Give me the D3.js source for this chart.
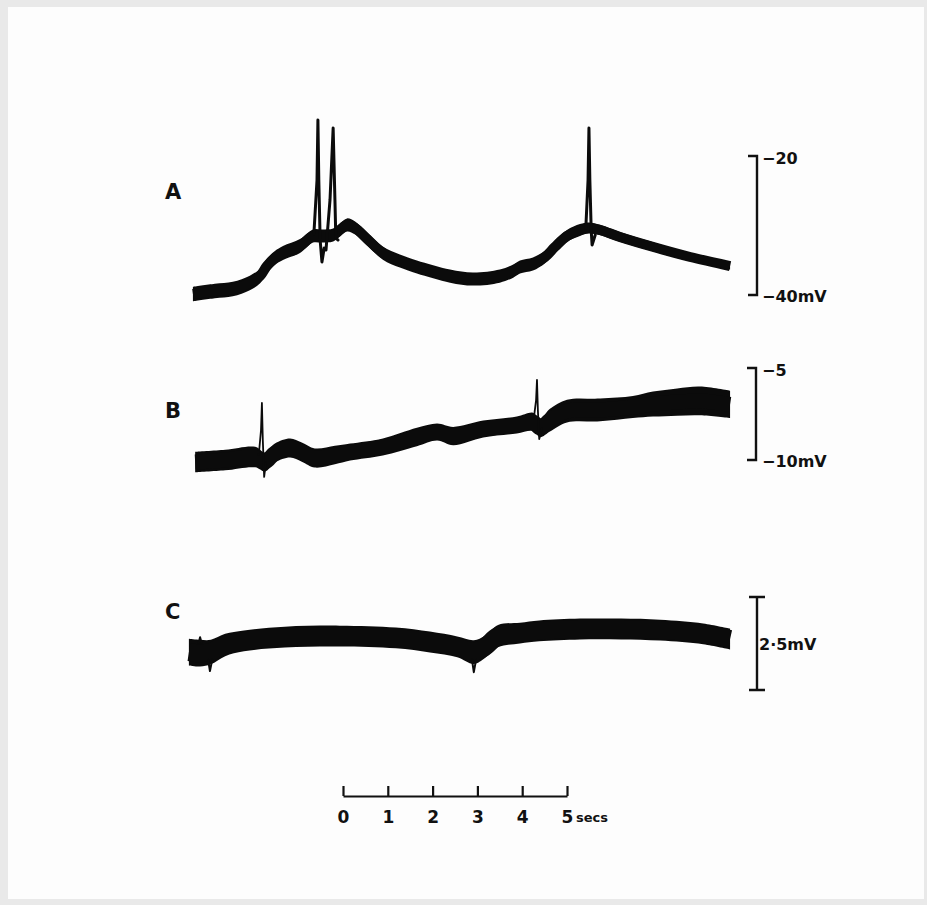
<!DOCTYPE html>
<html>
<head>
<meta charset="utf-8">
<script src="https://cdn.jsdelivr.net/npm/d3@7"></script>
<style>
  html, body { margin: 0; padding: 0; background: #e9e9e9; }
  svg { display: block; }
  text { font-family: "DejaVu Sans", sans-serif; font-weight: bold; fill: #111; }
</style>
</head>
<body>
<div id="chart"></div>
<script>
// time bar ticks (secs)
var timeTicks = [0, 1, 2, 3, 4, 5];

// trace A : time (s), membrane potential (mV), noise half-band (mV)
var aT = [-3.35, -2.86, -2.46, -2.08, -1.85, -1.70, -1.52, -1.34, -0.96, -0.67, -0.47, -0.22, -0.07, 0.09, 0.27, 0.54, 0.89, 1.27, 1.65, 2.39, 2.90, 3.50, 3.80, 3.95, 4.24, 4.51, 4.73, 5.00, 5.29, 5.49, 5.74, 6.18, 7.01, 7.75, 8.64];
var aV = [-39.86, -39.42, -39.14, -38.27, -37.27, -35.83, -34.68, -33.96, -32.95, -31.51, -31.51, -31.37, -30.65, -29.93, -30.36, -31.94, -33.96, -35.11, -35.97, -37.27, -37.70, -37.27, -36.55, -35.97, -35.54, -34.53, -33.09, -31.51, -30.65, -30.36, -30.65, -31.65, -33.24, -34.53, -35.83];
var aN = [1.05, 1.05, 1.05, 1.05, 1.05, 1.05, 1.0, 1.0, 1.0, 0.95, 0.95, 0.95, 0.95, 0.95, 0.95, 0.95, 0.95, 0.95, 0.95, 0.95, 0.95, 0.95, 0.95, 0.95, 0.95, 0.9, 0.9, 0.85, 0.85, 0.8, 0.75, 0.7, 0.65, 0.6, 0.5];
// spikes on A
var aSpikeT = [
  [-0.65, -0.58, -0.56, -0.54, -0.51, -0.47, -0.42],
  [-0.38, -0.29, -0.22, -0.18, -0.16, -0.11],
  [5.42, 5.47, 5.49, 5.51, 5.54, 5.56, 5.63]
];
var aSpikeV = [
  [-31.22, -23.45, -14.82, -23.45, -32.09, -35.25, -33.24],
  [-33.53, -26.33, -15.97, -26.33, -31.80, -32.09],
  [-30.36, -23.45, -15.97, -23.45, -30.65, -32.81, -31.37]
];

// trace B
var bT = [-3.30, -2.63, -1.96, -1.74, -1.52, -1.18, -0.92, -0.63, -0.18, 0.16, 0.89, 1.65, 2.10, 2.46, 3.13, 3.88, 4.24, 4.40, 4.62, 5.00, 5.74, 6.47, 6.92, 7.46, 7.97, 8.64];
var bV = [-10.11, -10.00, -9.84, -10.11, -9.62, -9.35, -9.57, -9.89, -9.73, -9.57, -9.29, -8.75, -8.48, -8.70, -8.32, -8.10, -7.93, -8.26, -7.83, -7.34, -7.28, -7.12, -6.96, -6.85, -6.79, -6.98];
var bN = [0.56, 0.56, 0.56, 0.52, 0.52, 0.52, 0.52, 0.52, 0.5, 0.46, 0.46, 0.5, 0.46, 0.5, 0.46, 0.46, 0.5, 0.5, 0.62, 0.62, 0.62, 0.6, 0.68, 0.74, 0.78, 0.74];
var bSpikeT = [
  [-1.88, -1.83, -1.81, -1.79, -1.76, -1.72],
  [4.26, 4.31, 4.33, 4.35, 4.38, 4.44]
];
var bSpikeV = [
  [-9.73, -8.37, -6.90, -8.91, -10.92, -10.11],
  [-7.72, -6.74, -5.65, -7.28, -8.86, -8.26]
];

// trace C (relative mV)
var cT = [-3.44, -3.19, -2.95, -2.63, -2.21, -1.30, -0.07, 1.18, 1.94, 2.55, 2.92, 3.17, 3.46, 3.95, 4.38, 5.29, 6.21, 7.08, 8.04, 8.64];
var cV = [1.02, 0.99, 1.02, 1.21, 1.32, 1.42, 1.45, 1.40, 1.29, 1.16, 1.02, 1.16, 1.45, 1.53, 1.59, 1.64, 1.64, 1.61, 1.51, 1.37];
var cN = [0.36, 0.36, 0.33, 0.3, 0.28, 0.28, 0.28, 0.28, 0.28, 0.28, 0.32, 0.3, 0.3, 0.28, 0.28, 0.28, 0.28, 0.28, 0.28, 0.28];
var cSpikeT = [
  [-3.22, -3.19, -3.16],
  [-3.01, -2.97, -2.92],
  [2.88, 2.92, 2.97]
];
var cSpikeV = [
  [1.28, 1.42, 1.28],
  [0.81, 0.51, 0.81],
  [0.81, 0.48, 0.81]
];

var W = 927, H = 905;

var svg = d3.select('#chart').append('svg')
    .attr('width', W)
    .attr('height', H)

// paper
svg.append('rect')
    .attr('x', 0).attr('y', 0).attr('width', W).attr('height', H)
    .attr('fill', '#e9e9e9')
svg.append('rect')
    .attr('x', 8).attr('y', 7).attr('width', W - 11).attr('height', H - 13)
    .attr('fill', '#fdfdfd')

// scales
var x = d3.scaleLinear().domain([0, 5]).range([343, 567]);
var yA = d3.scaleLinear().domain([-40, -20]).range([295, 156]);
var yB = d3.scaleLinear().domain([-10, -5]).range([460, 368]);
var yC = d3.scaleLinear().domain([0, 2.5]).range([690, 597]);

// draw one trace: noise band + centre line + spikes
function drawTrace(t, v, n, spT, spV, y, lineW, spikeW) {
    var idx = d3.range(t.length);
    var band = d3.area()
        .x(function (i) { return x(t[i]); })
        .y0(function (i) { return y(v[i] - n[i]); })
        .y1(function (i) { return y(v[i] + n[i]); })
        .curve(d3.curveCatmullRom.alpha(0.5));
    svg.append('path')
        .attr('d', band(idx))
        .attr('fill', '#0b0b0b')

    var centre = d3.line()
        .x(function (i) { return x(t[i]); })
        .y(function (i) { return y(v[i]); })
        .curve(d3.curveCatmullRom.alpha(0.5));
    svg.append('path')
        .attr('d', centre(idx))
        .attr('fill', 'none')
        .attr('stroke', '#0b0b0b')
        .attr('stroke-width', lineW)
        .attr('stroke-linejoin', 'round')

    var spike = d3.line()
        .x(function (d) { return x(d[0]); })
        .y(function (d) { return y(d[1]); });
    spT.forEach(function (ts, k) {
        var pts = ts.map(function (tt, j) { return [tt, spV[k][j]]; });
        svg.append('path')
            .attr('d', spike(pts))
            .attr('fill', 'none')
            .attr('stroke', '#0b0b0b')
            .attr('stroke-width', spikeW)
            .attr('stroke-linejoin', 'round')
            .attr('stroke-linecap', 'round')
    })
}

drawTrace(aT, aV, aN, aSpikeT, aSpikeV, yA, 10, 3);
drawTrace(bT, bV, bN, bSpikeT, bSpikeV, yB, 15, 1.8);
drawTrace(cT, cV, cN, cSpikeT, cSpikeV, yC, 18, 2);

// trace letters
var letters = [['A', 199], ['B', 418], ['C', 619]];
letters.forEach(function (l) {
    svg.append('text')
        .attr('x', 165).attr('y', l[1])
        .attr('font-size', 21)
        .text(l[0])
})

// voltage scale bars
function bracket(bx, y0, y1, tick) {
    svg.append('path')
        .attr('d', 'M' + (bx - tick) + ',' + y0 + 'H' + bx + 'V' + y1 + 'H' + (bx - tick))
        .attr('fill', 'none')
        .attr('stroke', '#111')
        .attr('stroke-width', 2.4)
}
bracket(757, yA(-20), yA(-40), 9);
bracket(756, yB(-5), yB(-10), 9);

svg.append('path')
    .attr('d', 'M749,' + yC(2.5) + 'H765M757,' + yC(2.5) + 'V' + yC(0) + 'M749,' + yC(0) + 'H765')
    .attr('fill', 'none')
    .attr('stroke', '#111')
    .attr('stroke-width', 2.4)

function barLabel(lx, ly, txt) {
    svg.append('text')
        .attr('x', lx).attr('y', ly)
        .attr('dy', '0.36em')
        .attr('font-size', 16)
        .text(txt)
}
barLabel(762, yA(-20) + 2, '\u221220');
barLabel(762, yA(-40) + 1, '\u221240mV');
barLabel(762, yB(-5) + 2, '\u22125');
barLabel(762, yB(-10) + 1, '\u221210mV');
barLabel(759, (yC(0) + yC(2.5)) / 2 + 1, '2\u00b75mV');

// time bar
var tAxis = d3.axisBottom(x)
    .tickValues(timeTicks)
    .tickFormat(d3.format('d'))
    .tickSizeInner(-10)
    .tickSizeOuter(0)
    .tickPadding(15);

var g = svg.append('g')
    .attr('transform', 'translate(0,796)')
    .call(tAxis)
g.select('.domain').attr('stroke', '#111').attr('stroke-width', 2.2)
g.selectAll('.tick line').attr('stroke', '#111').attr('stroke-width', 2.2)
g.selectAll('.tick text')
    .attr('font-family', '"DejaVu Sans", sans-serif')
    .attr('font-weight', 'bold')
    .attr('font-size', 17)
    .attr('fill', '#111')

svg.append('text')
    .attr('x', x(5) + 9).attr('y', 822)
    .attr('font-size', 13)
    .text('secs')
</script>
</body>
</html>
